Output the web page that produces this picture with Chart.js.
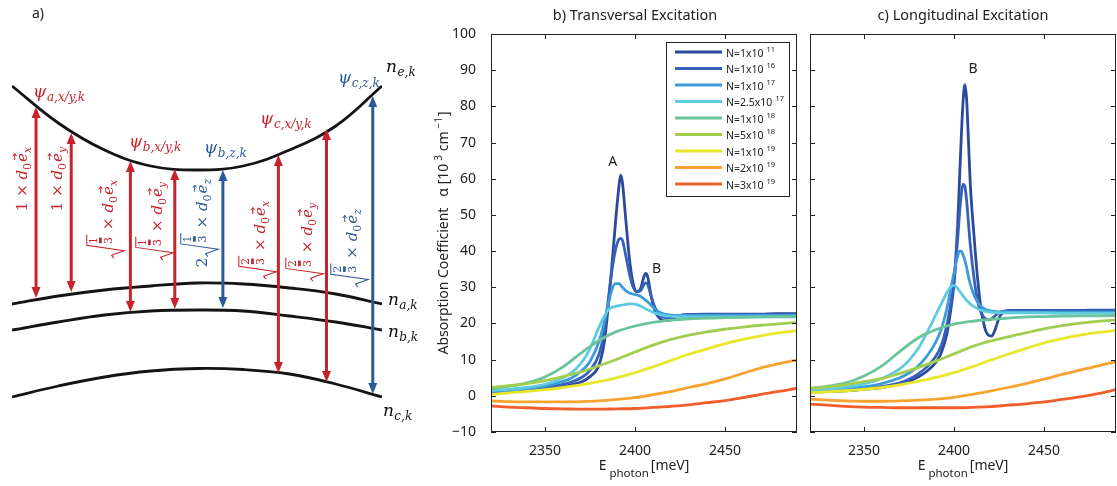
<!DOCTYPE html>
<html>
<head>
<meta charset="utf-8">
<script src="https://cdn.jsdelivr.net/npm/chart.js@4.4.1/dist/chart.umd.min.js"></script>
<style>
  html, body { margin: 0; padding: 0; background: #fff; }
  #wrap { position: relative; width: 1117px; height: 486px; overflow: hidden; }
  .panel { position: absolute; top: 0; height: 486px; }
  #pa { left: 0; width: 420px; }
  #pb { left: 420px; width: 380px; }
  #pc { left: 800px; width: 317px; }
</style>
</head>
<body>
<div id="wrap">
  <div class="panel" id="pa"><canvas id="bandChart"></canvas></div>
  <div class="panel" id="pb"><canvas id="transChart"></canvas></div>
  <div class="panel" id="pc"><canvas id="longChart"></canvas></div>
</div>
<script>
// ---- band sketch (arbitrary energy units) ----
const kPoints = [-1, -0.75, -0.5, -0.25, 0, 0.25, 0.5, 0.75, 1];
const bandE = [4.00, 3.63, 3.36, 3.20, 3.16, 3.20, 3.36, 3.60, 4.00];
const bandA = [1.82, 1.90, 1.96, 2.00, 2.03, 2.02, 1.98, 1.92, 1.82];
const bandB = [1.56, 1.64, 1.71, 1.75, 1.76, 1.75, 1.70, 1.64, 1.56];
const bandC = [0.89, 1.00, 1.09, 1.15, 1.175, 1.165, 1.12, 1.02, 0.89];

// dipole transitions: k, upper / lower level, polarisation, prefactor
const transK = [-0.87, -0.68, -0.36, -0.12, 0.14, 0.44, 0.70, 0.95];
const transTop = [3.79, 3.53, 3.25, 3.17, 3.16, 3.31, 3.57, 3.90];
const transBottom = [1.88, 1.94, 1.74, 1.77, 1.78, 1.13, 1.04, 0.92];
const transPol = ['x', 'y', 'x', 'y', 'z', 'x', 'y', 'z'];
const transPrefix = ['1', '1', '', '', '2', '', '', ''];
const transRoot = [null, null, ['1', '3'], ['1', '3'], ['1', '3'], ['2', '3'], ['2', '3'], ['2', '3']];

// ---- absorption spectra ----
const energyTicks = [2350, 2400, 2450];
const alphaTicks = [-10, 0, 10, 20, 30, 40, 50, 60, 70, 80, 90, 100];
const densityCoef = ['1', '1', '1', '2.5', '1', '5', '1', '2', '3'];
const densityExp = ['11', '16', '17', '17', '18', '18', '19', '19', '19'];

const energySmooth = [2320, 2330, 2340, 2350, 2360, 2370, 2380, 2390, 2400, 2410, 2420, 2430, 2440, 2450, 2460, 2470, 2480, 2490];

// transversal excitation
const energyTransFine = [2320, 2330, 2340, 2350, 2360, 2365, 2370, 2375, 2380, 2383, 2385, 2387, 2389, 2391, 2392, 2393, 2395, 2397, 2399, 2401, 2403, 2405, 2406, 2407, 2409, 2411, 2414, 2417, 2420, 2423, 2426, 2430, 2440, 2450, 2460, 2470, 2480, 2490];
const transN11 = [1.0, 1.2, 1.5, 1.9, 2.6, 3.1, 3.8, 5.3, 8.5, 15, 24, 35, 47, 57.5, 61, 59, 48, 37.5, 31, 28.8, 29.5, 33, 33.8, 33, 27.5, 23.5, 21.3, 20.8, 21.0, 21.8, 22.3, 22.5, 22.6, 22.6, 22.6, 22.6, 22.7, 22.7];
const transN16 = [1.1, 1.3, 1.7, 2.2, 3.2, 3.9, 5.0, 7.0, 11.5, 18, 26, 34, 40, 43.2, 43.5, 43, 38.5, 33.5, 30, 28.8, 29, 30.8, 31.2, 30.8, 27.5, 24.5, 22.3, 21.6, 21.6, 22.0, 22.3, 22.4, 22.5, 22.5, 22.5, 22.5, 22.6, 22.6];
const transN17 = [1.3, 1.6, 2.0, 2.7, 4.0, 5.0, 6.8, 9.5, 15, 20.5, 25, 29, 31, 31, 30.6, 30, 29, 28.4, 28.1, 27.9, 27.5, 26.8, 26.4, 26, 25, 24, 23, 22.5, 22.3, 22.2, 22.2, 22.2, 22.2, 22.2, 22.2, 22.2, 22.2, 22.2];
const transN25e17 = [1.5, 1.8, 2.3, 3.2, 5.0, 6.5, 9.0, 13, 19, 22, 23.7, 24.4, 24.7, 24.9, 25, 25.1, 25.3, 25.4, 25.4, 25.2, 24.8, 24.3, 24, 23.8, 23.3, 22.9, 22.4, 22.1, 22.0, 21.9, 21.9, 21.8, 21.8, 21.8, 21.8, 21.8, 21.8, 21.8];
const transN1e18 = [2.0, 2.6, 3.6, 5.2, 8.0, 11.8, 15.3, 17.8, 19.3, 20.3, 20.9, 21.3, 21.5, 21.6, 21.7, 21.8, 21.9, 21.9];
const transN5e18 = [2.3, 2.8, 3.4, 4.2, 5.3, 6.6, 8.3, 10.1, 12.1, 14.0, 15.6, 16.8, 17.7, 18.4, 19.0, 19.5, 19.9, 20.3];
const transN1e19 = [0.4, 0.8, 1.2, 1.7, 2.3, 3.0, 3.9, 5.0, 6.4, 8.0, 9.8, 11.5, 13.0, 14.4, 15.6, 16.6, 17.4, 18.0];
const transN2e19 = [-1.4, -1.6, -1.7, -1.7, -1.7, -1.6, -1.4, -1.0, -0.5, 0.3, 1.2, 2.3, 3.4, 4.7, 6.2, 7.7, 8.9, 9.9];
const transN3e19 = [-2.8, -3.1, -3.3, -3.5, -3.6, -3.7, -3.7, -3.6, -3.5, -3.2, -2.9, -2.5, -1.9, -1.3, -0.5, 0.4, 1.2, 2.1];

// longitudinal excitation
const energyLongFine = [2320, 2330, 2340, 2350, 2360, 2370, 2375, 2380, 2385, 2390, 2393, 2396, 2398, 2400, 2401, 2402, 2403, 2404, 2405, 2406, 2407, 2408, 2409, 2411, 2413, 2415, 2417, 2419, 2421, 2423, 2425, 2428, 2432, 2440, 2450, 2460, 2470, 2480, 2490];
const longN11 = [1.0, 1.2, 1.4, 1.8, 2.3, 3.2, 4.0, 5.2, 6.8, 9.3, 12, 17, 23, 31, 38, 47, 59, 71, 81, 86, 82, 71, 59, 45, 33, 24, 19, 16.8, 16.5, 18.5, 21.5, 23.3, 23.6, 23.6, 23.6, 23.6, 23.6, 23.7, 23.7];
const longN16 = [1.1, 1.3, 1.6, 2.0, 2.6, 3.6, 4.6, 6.0, 8.0, 11, 14, 19.5, 25, 32, 37, 43, 50, 55.5, 58.5, 58, 54, 48, 42, 33, 26.5, 23, 21.5, 21.0, 21.3, 22.2, 23.0, 23.4, 23.5, 23.5, 23.5, 23.5, 23.5, 23.6, 23.6];
const longN17 = [1.2, 1.5, 1.9, 2.5, 3.4, 5.0, 6.3, 8.2, 11, 15, 18.5, 24, 29, 34, 36.5, 38.5, 40, 40, 39, 37.5, 35.5, 33, 31, 28, 26, 24.7, 24, 23.6, 23.4, 23.3, 23.2, 23.2, 23.1, 23.1, 23.1, 23.1, 23.1, 23.1, 23.1];
const longN25e17 = [1.4, 1.8, 2.4, 3.3, 4.8, 7.5, 9.8, 13, 17.5, 22.5, 25.5, 28.5, 30, 30.5, 30.2, 29.7, 29.0, 28.3, 27.6, 27, 26.4, 25.9, 25.4, 24.7, 24.1, 23.7, 23.4, 23.2, 23.1, 23.0, 23.0, 22.9, 22.9, 22.9, 22.9, 22.8, 22.8, 22.8, 22.8];
const longN1e18 = [2.1, 2.7, 3.6, 5.5, 8.3, 12.3, 16.0, 18.3, 19.8, 20.6, 21.1, 21.5, 21.8, 21.9, 22.0, 22.1, 22.1, 22.2];
const longN5e18 = [2.0, 2.5, 3.1, 3.9, 4.8, 6.2, 7.8, 9.6, 11.6, 13.6, 15.1, 16.3, 17.4, 18.5, 19.4, 20.1, 20.6, 21.0];
const longN1e19 = [0.9, 1.1, 1.4, 1.8, 2.3, 3.0, 4.0, 5.1, 6.4, 8.0, 9.8, 11.5, 13.1, 14.6, 15.8, 16.8, 17.5, 18.1];
const longN2e19 = [-0.9, -1.2, -1.4, -1.5, -1.5, -1.4, -1.2, -0.9, -0.4, 0.4, 1.3, 2.3, 3.4, 4.6, 5.9, 7.1, 8.3, 9.4];
const longN3e19 = [-2.3, -2.6, -2.9, -3.1, -3.2, -3.3, -3.3, -3.3, -3.3, -3.2, -3.0, -2.6, -2.2, -1.7, -1.0, -0.3, 0.6, 1.7];

const seriesColors = ['#2b4a9c', '#3562b8', '#3c9bd8', '#5ecbe2', '#6cc49a', '#a2ce4f', '#e9e62c', '#f6a331', '#f15e2b'];

const SANS = '"Noto Sans", "Open Sans", sans-serif';
const SERIF = '"DejaVu Serif", "Liberation Serif", serif';
const INK = '#222';
const RED = '#c8222b';
const BLUE = '#2c5a98';

// draws a list of text runs (plain, sub/superscript, square-root fraction) on one baseline
function drawRuns(ctx, runs, x, y, dry) {
  let cx = x;
  runs.forEach(r => {
    cx += r.gap || 0;
    if (r.root) {
      const s = r.size;
      ctx.font = Math.round(s * 0.74) + 'px ' + SERIF;
      const fw = Math.max(ctx.measureText(r.root[0]).width, ctx.measureText(r.root[1]).width);
      const fx = cx + s * 0.95;
      const w = s * 0.95 + fw + s * 0.15;
      if (!dry) {
        ctx.save();
        ctx.strokeStyle = ctx.fillStyle;
        ctx.lineWidth = Math.max(1, s * 0.07);
        ctx.beginPath();
        ctx.moveTo(cx, y + s * 0.05);
        ctx.lineTo(cx + s * 0.2, y - s * 0.1);
        ctx.lineTo(cx + s * 0.5, y + s * 0.75);
        ctx.lineTo(cx + s * 0.85, y - s * 1.75);
        ctx.lineTo(cx + w, y - s * 1.75);
        ctx.stroke();
        ctx.textAlign = 'center';
        const mid = fx + fw / 2;
        ctx.fillText(r.root[0], mid, y - s * 1.08);
        ctx.fillRect(fx + fw * 0.1, y - s * 0.93, fw * 0.8, s * 0.18);
        ctx.fillText(r.root[1], mid, y - s * 0.05);
        ctx.restore();
      }
      cx += w;
    } else {
      ctx.font = r.font;
      const w = ctx.measureText(r.t).width;
      if (!dry) {
        ctx.fillText(r.t, cx, y + (r.dy || 0));
        if (r.vec) {
          const s = r.size;
          const ay = y - s * 0.82;
          ctx.save();
          ctx.strokeStyle = ctx.fillStyle;
          ctx.lineWidth = Math.max(1, s * 0.06);
          ctx.beginPath();
          ctx.moveTo(cx + w * 0.2, ay);
          ctx.lineTo(cx + w * 0.95, ay);
          ctx.moveTo(cx + w * 0.95 - s * 0.18, ay - s * 0.12);
          ctx.lineTo(cx + w * 0.95, ay);
          ctx.lineTo(cx + w * 0.95 - s * 0.18, ay + s * 0.12);
          ctx.stroke();
          ctx.restore();
        }
      }
      cx += w;
    }
  });
  return cx - x;
}

function dipoleRuns(i, s) {
  const up = s + 'px ' + SERIF;
  const it = 'italic ' + s + 'px ' + SERIF;
  const sub = Math.round(s * 0.72) + 'px ' + SERIF;
  const runs = [];
  if (transPrefix[i]) runs.push({ t: transPrefix[i], font: up });
  if (transRoot[i]) runs.push({ root: transRoot[i], size: s, gap: transPrefix[i] ? 1 : 0 });
  runs.push({ t: ' \u00d7 ', font: up });
  runs.push({ t: 'd', font: it });
  runs.push({ t: '0', font: sub, dy: s * 0.28 });
  runs.push({ t: 'e', font: it, vec: true, size: s, gap: 1 });
  runs.push({ t: transPol[i], font: 'italic ' + sub, dy: s * 0.28 });
  return runs;
}

// arrows, dipole factors and state labels of the band sketch
const transitionArrows = {
  id: 'transitionArrows',
  afterDatasetsDraw(chart) {
    const { ctx, scales: { x, y } } = chart;
    // label anchors: baseline (k) and centre (energy) of each rotated label
    const labelK = [-0.919, -0.730, -0.454, -0.189, 0.054, 0.368, 0.622, 0.865];
    const labelE = [3.07, 3.07, 2.67, 2.65, 2.63, 2.46, 2.44, 2.38];
    ctx.save();
    transK.forEach((k, i) => {
      const col = transPol[i] === 'z' ? BLUE : RED;
      const px = x.getPixelForValue(k);
      const y0 = y.getPixelForValue(transTop[i]);
      const y1 = y.getPixelForValue(transBottom[i]);
      const hl = 11, hw = 4.5;
      ctx.strokeStyle = col;
      ctx.fillStyle = col;
      ctx.lineWidth = 3;
      ctx.beginPath();
      ctx.moveTo(px, y0 + hl - 1);
      ctx.lineTo(px, y1 - hl + 1);
      ctx.stroke();
      ctx.beginPath();
      ctx.moveTo(px, y0); ctx.lineTo(px - hw, y0 + hl); ctx.lineTo(px + hw, y0 + hl);
      ctx.closePath(); ctx.fill();
      ctx.beginPath();
      ctx.moveTo(px, y1); ctx.lineTo(px - hw, y1 - hl); ctx.lineTo(px + hw, y1 - hl);
      ctx.closePath(); ctx.fill();

      const runs = dipoleRuns(i, 15);
      const w = drawRuns(ctx, runs, 0, 0, true);
      ctx.save();
      ctx.translate(x.getPixelForValue(labelK[i]), y.getPixelForValue(labelE[i]));
      ctx.rotate(-Math.PI / 2);
      ctx.fillStyle = col;
      ctx.textBaseline = 'alphabetic';
      drawRuns(ctx, runs, -w / 2, 0);
      ctx.restore();
    });

    // wavefunction and band names
    const names = [
      { b: '\u03c8', s: 'a,x/y,k', k: -0.886, e: 3.89, c: RED },
      { b: '\u03c8', s: 'b,x/y,k', k: -0.368, e: 3.39, c: RED },
      { b: '\u03c8', s: 'b,z,k', k: 0.038, e: 3.33, c: BLUE },
      { b: '\u03c8', s: 'c,x/y,k', k: 0.341, e: 3.62, c: RED },
      { b: '\u03c8', s: 'c,z,k', k: 0.762, e: 4.03, c: BLUE },
      { b: 'n', s: 'e,k', k: 1.022, e: 4.14, c: '#111' },
      { b: 'n', s: 'a,k', k: 1.032, e: 1.81, c: '#111' },
      { b: 'n', s: 'b,k', k: 1.032, e: 1.49, c: '#111' },
      { b: 'n', s: 'c,k', k: 1.005, e: 0.70, c: '#111' }
    ];
    ctx.textBaseline = 'alphabetic';
    names.forEach(n => {
      ctx.fillStyle = n.c;
      drawRuns(ctx, [
        { t: n.b, font: 'italic 17px ' + SERIF },
        { t: n.s, font: 'italic 12px ' + SERIF, dy: 4, gap: 0.5 }
      ], x.getPixelForValue(n.k), y.getPixelForValue(n.e));
    });

    ctx.fillStyle = INK;
    ctx.font = '14px ' + SANS;
    ctx.fillText('a)', 32, 18);
    ctx.restore();
  }
};

new Chart(document.getElementById('bandChart'), {
  type: 'scatter',
  data: {
    datasets: [bandE, bandA, bandB, bandC].map(levels => ({
      data: kPoints.map((k, i) => ({ x: k, y: levels[i] })),
      showLine: true,
      borderColor: '#141414',
      borderWidth: 2.8,
      pointRadius: 0,
      tension: 0.4
    }))
  },
  options: {
    responsive: true,
    maintainAspectRatio: false,
    animation: false,
    layout: { padding: { left: 12, right: 38, top: 0, bottom: 0 } },
    scales: {
      x: { type: 'linear', display: false, min: -1, max: 1 },
      y: { type: 'linear', display: false, min: 0, max: 4.86 }
    },
    plugins: { legend: { display: false }, tooltip: { enabled: false } }
  },
  plugins: [transitionArrows]
});

// frame, inward ticks, titles, legend and peak letters of a spectrum panel
const plotDecor = {
  id: 'plotDecor',
  afterDatasetsDraw(chart, args, o) {
    const { ctx, chartArea: a, scales: { x, y } } = chart;
    ctx.save();
    ctx.strokeStyle = INK;
    ctx.lineWidth = 1;
    ctx.strokeRect(a.left + 0.5, a.top + 0.5, a.width - 1, a.height - 1);
    ctx.beginPath();
    energyTicks.forEach(v => {
      const px = Math.round(x.getPixelForValue(v)) + 0.5;
      ctx.moveTo(px, a.bottom); ctx.lineTo(px, a.bottom - 5);
      ctx.moveTo(px, a.top); ctx.lineTo(px, a.top + 5);
    });
    alphaTicks.forEach(v => {
      const py = Math.round(y.getPixelForValue(v)) + 0.5;
      ctx.moveTo(a.left, py); ctx.lineTo(a.left + 5, py);
      ctx.moveTo(a.right, py); ctx.lineTo(a.right - 5, py);
    });
    ctx.stroke();

    const cx = (a.left + a.right) / 2;
    ctx.fillStyle = INK;
    ctx.textBaseline = 'alphabetic';

    // panel title
    ctx.font = '14.5px ' + SANS;
    ctx.textAlign = 'center';
    ctx.fillText(o.title, cx + o.titleShift, 20);
    ctx.textAlign = 'left';

    // x axis title
    const xRuns = [
      { t: 'E', font: '14px ' + SANS },
      { t: 'photon', font: '11.5px ' + SANS, dy: 7, gap: 3 },
      { t: '[meV]', font: '14px ' + SANS, gap: 2 }
    ];
    const xw = drawRuns(ctx, xRuns, 0, 0, true);
    drawRuns(ctx, xRuns, cx - xw / 2, 470);

    // y axis title
    if (o.yTitle) {
      const yRuns = [
        { t: 'Absorption Coefficient   \u03b1 [10', font: '14px ' + SANS },
        { t: '3', font: '10px ' + SANS, dy: -6, gap: 3 },
        { t: ' cm', font: '14px ' + SANS },
        { t: '\u22121', font: '10px ' + SANS, dy: -6, gap: 3 },
        { t: ']', font: '14px ' + SANS, gap: 1 }
      ];
      const yw = drawRuns(ctx, yRuns, 0, 0, true);
      ctx.save();
      ctx.translate(a.left - 43, (a.top + a.bottom) / 2);
      ctx.rotate(-Math.PI / 2);
      drawRuns(ctx, yRuns, -yw / 2, 0);
      ctx.restore();
    }

    // peak letters
    ctx.font = '14px ' + SANS;
    ctx.textAlign = 'center';
    ctx.textBaseline = 'middle';
    (o.peaks || []).forEach(p => {
      ctx.fillText(p.text, x.getPixelForValue(p.e), y.getPixelForValue(p.a));
    });
    ctx.textAlign = 'left';
    ctx.textBaseline = 'alphabetic';

    // legend box
    if (o.legend) {
      const w = 123, h = 154;
      const lx = a.right - 8 - w, ly = a.top + 8;
      ctx.fillStyle = '#fff';
      ctx.fillRect(lx, ly, w, h);
      ctx.strokeStyle = INK;
      ctx.lineWidth = 1;
      ctx.strokeRect(Math.round(lx) + 0.5, Math.round(ly) + 0.5, w, h);
      chart.data.datasets.forEach((ds, i) => {
        const ry = ly + 10 + i * 16.5;
        ctx.strokeStyle = ds.borderColor;
        ctx.lineWidth = 3;
        ctx.beginPath();
        ctx.moveTo(lx + 9, ry);
        ctx.lineTo(lx + 56, ry);
        ctx.stroke();
        ctx.fillStyle = INK;
        drawRuns(ctx, [
          { t: 'N=' + densityCoef[i] + 'x10', font: '10.5px ' + SANS },
          { t: densityExp[i], font: '7.5px ' + SANS, dy: -5, gap: 3 }
        ], lx + 60, ry + 4.5);
      });
    }
    ctx.restore();
  }
};

const toPoints = (xs, ys) => xs.map((v, i) => ({ x: v, y: ys[i] }));

function spectrumSets(fineE, fine, smooth) {
  const curves = fine.map(s => toPoints(fineE, s)).concat(smooth.map(s => toPoints(energySmooth, s)));
  return curves.map((pts, i) => ({
    label: 'N=' + densityCoef[i] + 'x10^' + densityExp[i],
    data: pts,
    borderColor: seriesColors[i],
    backgroundColor: seriesColors[i],
    borderWidth: 2.8,
    pointRadius: 0,
    cubicInterpolationMode: 'monotone',
    order: curves.length - i
  }));
}

function spectrumOptions(yAxisWidth, yLabels, rightPad, decor) {
  return {
    responsive: true,
    maintainAspectRatio: false,
    animation: false,
    layout: { padding: { left: 0, right: rightPad, top: 34, bottom: 0 } },
    scales: {
      x: {
        type: 'linear', min: 2320, max: 2490,
        afterBuildTicks: s => { s.ticks = energyTicks.map(v => ({ value: v })); },
        afterFit: s => { s.height = 54; },
        grid: { display: false },
        border: { display: false },
        ticks: { padding: 3, color: INK, font: { family: SANS, size: 14 }, callback: v => String(v) }
      },
      y: {
        type: 'linear', min: -10, max: 100,
        afterBuildTicks: s => { s.ticks = alphaTicks.map(v => ({ value: v })); },
        afterFit: s => { s.width = yAxisWidth; },
        grid: { display: false },
        border: { display: false },
        ticks: {
          display: yLabels, padding: 7, color: INK, font: { family: SANS, size: 14 },
          callback: v => (v < 0 ? '\u2212' + Math.abs(v) : String(v))
        }
      }
    },
    plugins: { legend: { display: false }, tooltip: { enabled: false }, plotDecor: decor }
  };
}

new Chart(document.getElementById('transChart'), {
  type: 'line',
  data: {
    datasets: spectrumSets(energyTransFine,
      [transN11, transN16, transN17, transN25e17],
      [transN1e18, transN5e18, transN1e19, transN2e19, transN3e19])
  },
  options: spectrumOptions(71, true, 3, {
    title: 'b) Transversal Excitation', titleShift: -9, yTitle: true, legend: true,
    peaks: [{ text: 'A', e: 2387.6, a: 64.7 }, { text: 'B', e: 2412, a: 35 }]
  }),
  plugins: [plotDecor]
});

new Chart(document.getElementById('longChart'), {
  type: 'line',
  data: {
    datasets: spectrumSets(energyLongFine,
      [longN11, longN16, longN17, longN25e17],
      [longN1e18, longN5e18, longN1e19, longN2e19, longN3e19])
  },
  options: spectrumOptions(10, false, 1, {
    title: 'c) Longitudinal Excitation', titleShift: 0, yTitle: false, legend: false,
    peaks: [{ text: 'B', e: 2410.6, a: 90.2 }]
  }),
  plugins: [plotDecor]
});
</script>
</body>
</html>
